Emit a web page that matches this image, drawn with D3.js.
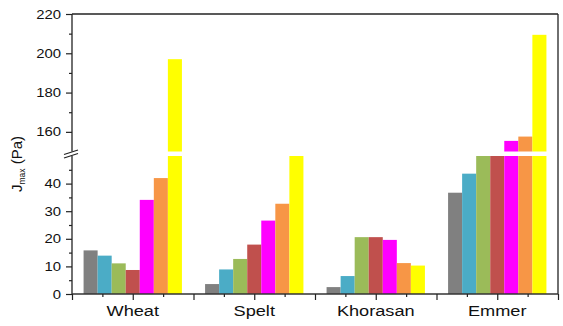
<!DOCTYPE html>
<html>
<head>
<meta charset="utf-8">
<script src="https://cdn.jsdelivr.net/npm/d3@7/dist/d3.min.js"></script>
<style>
  html, body { margin: 0; padding: 0; background: #fff; }
  svg { display: block; font-family: "Liberation Sans", Arial, sans-serif; }
</style>
</head>
<body>
<svg id="chart" width="563" height="326"></svg>
<script>
// Grain types along the x axis
const categories = ["Wheat", "Spelt", "Khorasan", "Emmer"];
// Seven treatments per grain, one colour each
const seriesColors = ["#808080", "#4bacc6", "#9bbb59", "#c0504d", "#ff00ff", "#f79646", "#ffff00"];
// J_max (Pa) per treatment, one array per grain
const wheat    = [15.8, 13.9, 11.1, 8.7, 34.1, 42.0, 197];
const spelt    = [3.6, 8.9, 12.7, 17.9, 26.6, 32.7, 50];
const khorasan = [2.5, 6.5, 20.6, 20.6, 19.6, 11.2, 10.3];
const emmer    = [36.7, 43.6, 50, 50, 155.4, 157.6, 209.4];
const values = [wheat, spelt, khorasan, emmer];
// Tick values for the two segments of the broken y axis
const lowTicks = [0, 10, 20, 30, 40];
const lowMinor = [5, 15, 25, 35, 45];
const highTicks = [160, 180, 200, 220];
const highMinor = [170, 190, 210];

(function draw() {
  const svg = d3.select("#chart");
  const plotLeft = 72, plotRight = 558, plotTop = 14, plotBottom = 294;
  const lowTopPx = 156, highBottomPx = 151.5;

  const x = d3.scaleLinear().domain([0, 8]).range([plotLeft, plotRight]);
  const yLow = d3.scaleLinear().domain([0, 50]).range([plotBottom, lowTopPx]);
  const yHigh = d3.scaleLinear().domain([150, 220]).range([highBottomPx, plotTop]);

  const barW = 14.05;
  const inner = d3.scaleBand().domain(d3.range(seriesColors.length))
    .range([-3.5 * barW, 3.5 * barW]).padding(0);

  const bars = [];
  values.forEach((vals, ci) => {
    vals.forEach((v, si) => bars.push({ ci, si, v }));
  });

  const gBars = svg.append("g");
  // lower segment: 0–50
  gBars.selectAll("rect.low").data(bars).join("rect")
    .attr("class", "low")
    .attr("x", d => x(2 * d.ci + 1) + inner(d.si))
    .attr("width", inner.bandwidth())
    .attr("y", d => yLow(Math.min(d.v, 50)))
    .attr("height", d => yLow(0) - yLow(Math.min(d.v, 50)))
    .attr("fill", d => seriesColors[d.si]);
  // upper segment: 150–220
  gBars.selectAll("rect.high").data(bars.filter(d => d.v > 150)).join("rect")
    .attr("class", "high")
    .attr("x", d => x(2 * d.ci + 1) + inner(d.si))
    .attr("width", inner.bandwidth())
    .attr("y", d => yHigh(d.v))
    .attr("height", d => yHigh(150) - yHigh(d.v))
    .attr("fill", d => seriesColors[d.si]);

  const axisColor = "#222";
  const frame = svg.append("g").attr("stroke", axisColor).attr("fill", "none");
  frame.append("line").attr("x1", plotLeft).attr("x2", plotRight).attr("y1", plotTop).attr("y2", plotTop).attr("stroke-width", 1.3);
  frame.append("line").attr("x1", plotRight).attr("x2", plotRight).attr("y1", plotTop).attr("y2", plotBottom).attr("stroke-width", 1.3);

  function styleAxis(g) {
    g.select(".domain").remove();
    g.selectAll(".tick line").attr("stroke", axisColor).attr("stroke-width", 1.2);
    g.selectAll(".tick text")
      .attr("fill", "#111")
      .attr("font-size", 12.6)
      .attr("font-family", "'Liberation Sans', Arial, sans-serif");
  }

  // left axis, lower segment
  svg.append("g").attr("transform", `translate(${plotLeft},0)`)
    .call(d3.axisLeft(yLow).tickValues(lowTicks).tickSize(6).tickPadding(5).tickSizeOuter(0))
    .call(styleAxis);
  svg.append("g").attr("transform", `translate(${plotLeft},0)`)
    .call(d3.axisLeft(yLow).tickValues(lowMinor).tickSize(3).tickFormat(""))
    .call(styleAxis);

  // left axis, upper segment
  svg.append("g").attr("transform", `translate(${plotLeft},0)`)
    .call(d3.axisLeft(yHigh).tickValues(highTicks).tickSize(6).tickPadding(5).tickSizeOuter(0))
    .call(styleAxis);
  svg.append("g").attr("transform", `translate(${plotLeft},0)`)
    .call(d3.axisLeft(yHigh).tickValues(highMinor).tickSize(3).tickFormat(""))
    .call(styleAxis);

  // widen the tick labels slightly
  svg.selectAll(".tick text").each(function () {
    const t = d3.select(this);
    const xx = +t.attr("x");
    t.attr("transform", `translate(${xx},0) scale(1.18,1) translate(${-xx},0)`);
  });

  // left spine in two pieces with the break between them
  frame.append("line").attr("x1", plotLeft).attr("x2", plotLeft).attr("y1", plotTop).attr("y2", highBottomPx).attr("stroke-width", 1.3);
  frame.append("line").attr("x1", plotLeft).attr("x2", plotLeft).attr("y1", lowTopPx).attr("y2", plotBottom).attr("stroke-width", 1.3);
  // break marks
  frame.append("line").attr("x1", plotLeft - 8).attr("y1", highBottomPx + 3).attr("x2", plotLeft + 6).attr("y2", highBottomPx - 1.5).attr("stroke-width", 1.2);
  frame.append("line").attr("x1", plotLeft - 8).attr("y1", lowTopPx + 2).attr("x2", plotLeft + 6).attr("y2", lowTopPx - 2.5).attr("stroke-width", 1.2);

  // bottom axis: major ticks every unit, minor at halves
  const gx = svg.append("g").attr("transform", `translate(0,${plotBottom})`)
    .call(d3.axisBottom(x).tickValues(d3.range(0, 9)).tickSize(6).tickFormat("").tickSizeOuter(0));
  gx.select(".domain").remove();
  gx.selectAll(".tick line").attr("stroke", axisColor).attr("stroke-width", 1.2);
  const gxm = svg.append("g").attr("transform", `translate(0,${plotBottom})`)
    .call(d3.axisBottom(x).tickValues(d3.range(0.5, 8, 1)).tickSize(3).tickFormat(""));
  gxm.select(".domain").remove();
  gxm.selectAll(".tick line").attr("stroke", axisColor).attr("stroke-width", 1.2);
  frame.append("line").attr("x1", plotLeft).attr("x2", plotRight).attr("y1", plotBottom).attr("y2", plotBottom).attr("stroke", "#333").attr("stroke-width", 1.6);

  // category labels
  svg.append("g").selectAll("text").data(categories).join("text")
    .attr("transform", (d, i) => `translate(${x(2 * i + 1)},316) scale(1.18,1)`)
    .attr("text-anchor", "middle")
    .attr("font-size", 15.4)
    .attr("fill", "#111")
    .text(d => d);

  // y axis title: J_max (Pa)
  const title = svg.append("text")
    .attr("transform", "translate(22,164) rotate(-90)")
    .attr("text-anchor", "middle")
    .attr("font-size", 15)
    .attr("fill", "#111");
  title.append("tspan").text("J");
  title.append("tspan").attr("font-size", 8.5).attr("dy", 3).text("max");
  title.append("tspan").attr("dy", -3).text(" (Pa)");
})();
</script>
</body>
</html>
